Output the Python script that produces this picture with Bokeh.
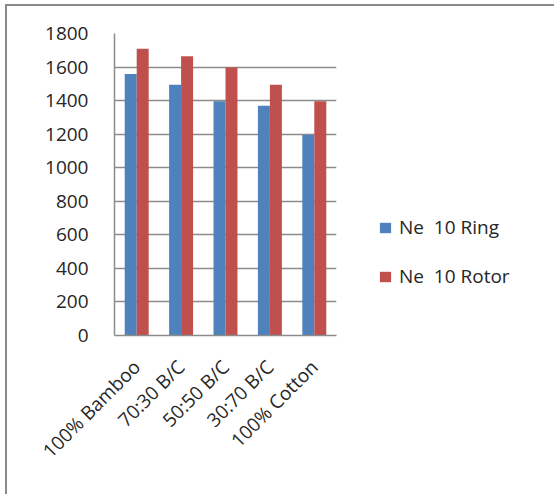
import math
from bokeh.plotting import figure
from bokeh.models import ColumnDataSource, Legend, LegendItem
from bokeh.transform import dodge
from bokeh.embed import file_html
from bokeh.resources import INLINE

blends = ["100% Bamboo", "70:30 B/C", "50:50 B/C", "30:70 B/C", "100% Cotton"]
ring = [1558, 1494, 1396, 1369, 1197]
rotor = [1709, 1664, 1597, 1494, 1396]
series_names = ["Ne  10 Ring", "Ne  10 Rotor"]
y_ticks = [0, 200, 400, 600, 800, 1000, 1200, 1400, 1600, 1800]

src = ColumnDataSource(data=dict(blend=blends, ring=ring, rotor=rotor))

FONT = "Open Sans"
TXT = "#262626"
GRID = "#8c8c8c"

p = figure(x_range=blends, y_range=(0, 1800),
           frame_width=222, frame_height=302,
           min_border_left=107, min_border_top=27,
           min_border_right=10, min_border_bottom=159,
           output_backend="svg", toolbar_location=None,
           background_fill_color="white", border_fill_color="white")
p.styles = {"border-top": "2px solid #8a8a8a", "border-left": "2px solid #8a8a8a",
            "margin-left": "5px", "margin-top": "4px"}

p.outline_line_color = None
p.xgrid.grid_line_color = None
p.ygrid.grid_line_color = GRID
p.ygrid.grid_line_width = 1.5
p.yaxis.ticker = y_ticks

for ax in (p.xaxis[0], p.yaxis[0]):
    ax.axis_line_color = GRID
    ax.axis_line_width = 1.5
    ax.major_tick_line_color = None
    ax.minor_tick_line_color = None
    ax.major_tick_out = 0
    ax.major_label_text_font = FONT
    ax.major_label_text_font_size = "19px"
    ax.major_label_text_color = TXT

p.yaxis.major_label_standoff = 26
p.xaxis.major_label_orientation = math.pi / 4
p.xaxis.major_label_standoff = 28

r1 = p.vbar(x=dodge("blend", -0.135, range=p.x_range), top="ring", width=0.27,
            source=src, fill_color="#4F81BD", line_color=None)
r2 = p.vbar(x=dodge("blend", 0.135, range=p.x_range), top="rotor", width=0.27,
            source=src, fill_color="#C0504D", line_color=None)

legend = Legend(items=[LegendItem(label=series_names[0], renderers=[r1]),
                       LegendItem(label=series_names[1], renderers=[r2])],
                location=(42, 46), orientation="vertical",
                glyph_width=14, glyph_height=13, label_height=20,
                spacing=23, padding=0, margin=0, label_standoff=7,
                label_text_font=FONT, label_text_font_size="19px",
                label_text_color=TXT,
                border_line_color=None, background_fill_alpha=0)
p.add_layout(legend, "right")

open("out.html", "w").write(file_html(p, INLINE))
